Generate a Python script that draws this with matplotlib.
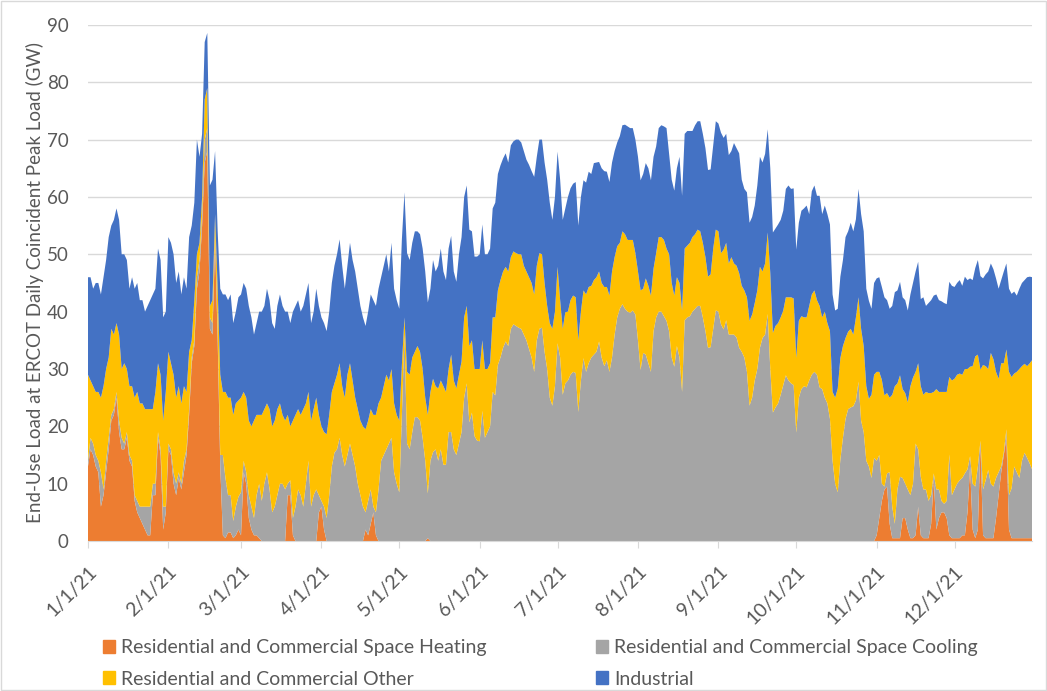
import numpy as np
import pandas as pd
import matplotlib
matplotlib.use('Agg')
import matplotlib.pyplot as plt
from matplotlib.patches import Patch, Rectangle

# daily values, GW, 1/1/21 .. 12/31/21
heating = [
    13, 16, 15, 13, 12, 6, 8, 12, 16, 21,
    22, 25, 19, 16, 16, 18, 14, 13, 7, 5,
    4, 3, 2, 1, 1, 8, 8, 18, 15, 2,
    5, 16, 15, 10, 8, 11, 9, 12, 15, 22,
    31, 34, 44, 47, 55, 66, 68, 37, 36, 52,
    35, 13, 1, 0.5, 1.5, 1.5, 0.5, 1, 2, 1,
    12, 10, 4, 2, 1, 1, 0.5, 0, 0, 0,
    0, 0, 0, 0, 0, 0, 0, 8, 8, 1,
    0, 0, 0, 0, 0, 0, 0, 0, 0, 5,
    6, 2, 0, 0, 0, 0, 0, 0, 0, 0,
    0, 0, 0, 0, 0, 0, 0, 2, 1, 3,
    5, 1, 0, 0, 0, 0, 0, 0, 0, 0,
    0, 0, 0, 0, 0, 0, 0, 0, 0, 0,
    0, 0.5, 0, 0, 0, 0, 0, 0, 0, 0,
    0, 0, 0, 0, 0, 0, 0, 0, 0, 0,
    0, 0, 0, 0, 0, 0, 0, 0, 0, 0,
    0, 0, 0, 0, 0, 0, 0, 0, 0, 0,
    0, 0, 0, 0, 0, 0, 0, 0, 0, 0,
    0, 0, 0, 0, 0, 0, 0, 0, 0, 0,
    0, 0, 0, 0, 0, 0, 0, 0, 0, 0,
    0, 0, 0, 0, 0, 0, 0, 0, 0, 0,
    0, 0, 0, 0, 0, 0, 0, 0, 0, 0,
    0, 0, 0, 0, 0, 0, 0, 0, 0, 0,
    0, 0, 0, 0, 0, 0, 0, 0, 0, 0,
    0, 0, 0, 0, 0, 0, 0, 0, 0, 0,
    0, 0, 0, 0, 0, 0, 0, 0, 0, 0,
    0, 0, 0, 0, 0, 0, 0, 0, 0, 0,
    0, 0, 0, 0, 0, 0, 0, 0, 0, 0,
    0, 0, 0, 0, 0, 0, 0, 0, 0, 0,
    0, 0, 0, 0, 0, 0, 0, 0, 0, 0,
    0, 0, 0, 0, 1, 4, 7, 9, 9.5, 3,
    0.5, 0.5, 0.5, 0.5, 4, 4, 2, 0.5, 0.5, 1,
    6, 1, 0.5, 0.5, 0.5, 3, 11, 2, 4, 5,
    5, 4, 1, 0.5, 0.5, 0.5, 0.5, 1, 1, 5,
    13, 2, 0.5, 2, 17, 1, 0.5, 0.5, 0.5, 0.5,
    4, 8, 12, 15, 18, 2, 0.5, 0.5, 0.5, 0.5,
    0.5, 0.5, 0.5, 0.5, 0.5,
]

cooling = [
    1, 2, 2, 2, 2, 6, 1, 2, 2, 1,
    1, 1, 2, 2, 1, 1, 1, 1, 1, 2,
    2, 3, 4, 5, 5, 2, 2, 1, 1, 4,
    1, 1, 1, 2, 2, 1, 1, 2, 1, 1,
    1, 1, 2, 2, 2, 4, 4, 2, 2, 2,
    2, 2, 14, 10.5, 6.5, 6.5, 3, 5, 5.7, 7.5,
    2, 2, 4, 4, 3, 7, 9.5, 7, 10, 12,
    9, 5, 6, 8, 10, 10, 9, 2, 2.6, 3,
    6, 9, 8, 6, 10, 14, 6, 8, 9, 3,
    1, 4, 4, 8, 13, 15.4, 16, 18, 15, 13,
    15, 17, 15, 13, 10, 8, 6, 3, 6, 6,
    1, 4, 9, 14, 15, 16, 17, 18, 12, 10,
    8.5, 22, 36, 17, 16, 19, 21.6, 21.6, 21, 18,
    14, 7.8, 14, 15.5, 16, 14, 16, 13.3, 13.3, 19,
    19, 16, 15, 17, 19, 25, 27.5, 20.7, 22.4, 18.3,
    17.5, 17.4, 22.7, 18, 19, 20, 26, 25.4, 30.7, 32,
    33.7, 34.8, 34, 37, 37.8, 37.5, 37.2, 37, 36, 35,
    33.5, 32, 29.5, 35, 37, 37.2, 33, 30, 25, 23.6,
    27, 34.5, 32, 25.5, 27.5, 28, 29, 29.5, 29.3, 22.5,
    28, 31.9, 29.5, 31, 32, 32.5, 33, 34.8, 32, 30.5,
    31.5, 29.5, 32, 36, 39, 40.5, 41.3, 40.5, 40, 39.8,
    40.2, 39.5, 35, 29.8, 32.8, 32.5, 31, 29.5, 36.6, 39,
    40, 40, 39.2, 38.4, 36.6, 32, 30.4, 34, 32, 26,
    38.5, 39, 39.2, 40, 40.5, 41, 41, 39, 36.6, 33.7,
    33.8, 37, 40.2, 40, 37.8, 36.9, 38.5, 36, 36, 36,
    35.5, 33.7, 33, 32, 29.5, 23.6, 25, 28, 30, 33.7,
    35.4, 36, 39.6, 30, 22.4, 23.3, 24, 25.5, 27.2, 28.9,
    28, 27.5, 27.2, 18.9, 25, 26.5, 27, 26.8, 28, 29,
    29.5, 29, 26.8, 26.5, 25, 24, 21.3, 14, 10, 8.5,
    14.2, 18, 21.3, 23, 23.3, 23.5, 24.5, 27.8, 21, 19,
    14, 13, 11, 14.5, 13, 11, 3, 0.5, 2.3, 9,
    5.5, 2.5, 8.5, 10.7, 7, 6, 7, 7.5, 9.5, 16,
    10, 10.2, 8.5, 8.5, 6.5, 5, 0.8, 7, 5, 2,
    1.5, 3, 14.1, 7.5, 8.5, 9.5, 10.1, 10, 10.8, 7.5,
    1.8, 8, 9, 11, 0.5, 8, 10.1, 11.9, 9.5, 9,
    7, 4, 1, 0.5, 1.5, 6, 8.7, 12.5, 11.5, 10.5,
    13.5, 14.9, 14, 13, 11.9,
]

other = [
    15, 10, 10, 11, 12, 13, 18, 16, 14, 15,
    13, 12, 15, 12, 14, 11, 12, 13, 17, 19,
    18, 18, 17, 17, 17, 13, 16, 12, 13, 15,
    20, 16, 15, 17, 15, 15, 14, 13, 10, 10,
    3, 7, 4, 3, 3, 7, 7, 2, 4, 3,
    7, 14, 11, 15, 17, 17, 18.5, 18, 16.8, 16.5,
    12, 13, 13, 14, 17, 14, 12, 15, 13, 12,
    14, 15, 15, 15, 14, 12, 12, 12, 9.4, 17,
    16, 14, 14, 17, 14, 12, 15, 15, 16, 14,
    13, 13, 14.6, 14, 13, 12.1, 13, 13, 12, 12,
    14, 14, 13, 12, 13, 13, 14, 14.5, 14, 14,
    16, 17, 15, 11, 12, 13, 11, 12, 12, 12,
    12.5, 8.7, 3, 12.5, 13, 13, 11.4, 12.4, 12, 12,
    11, 13.7, 12, 12.8, 11, 12.6, 12, 13.7, 12.7, 11,
    13.5, 12, 11.6, 12, 12.3, 14, 13.5, 13.3, 12.6, 11.7,
    12.5, 12.6, 12.3, 12, 11, 11, 13, 13.6, 13, 13.5,
    13.3, 13, 13, 12.5, 12.7, 12.7, 12.8, 13, 12, 12,
    12.5, 13, 13.5, 13, 13.2, 12.8, 12, 11, 13, 13.4,
    13, 13.3, 10, 11.5, 12.4, 12, 13, 13.3, 13.2, 12.5,
    12, 11.8, 13.5, 13.3, 12.5, 13, 13, 12.2, 13, 13.8,
    12.8, 13.3, 15, 13.5, 12.4, 11.5, 12.7, 13, 12.5, 12.7,
    12.3, 10.7, 12, 13.9, 11.2, 13.3, 13.5, 13.3, 10.9, 11.2,
    13, 13, 13.3, 12.6, 13.4, 13, 12.4, 12, 13, 14.2,
    12.5, 12.5, 12.8, 13, 13, 13.3, 13, 13, 12.9, 12.4,
    12.7, 14, 14.1, 14, 12.4, 13.9, 13.5, 12.4, 13.5, 12.4,
    12.5, 13, 11.5, 11.7, 13, 14.8, 14.5, 13.5, 13.7, 14.1,
    11.6, 12.4, 14.2, 16.7, 13.9, 14.2, 14, 13.5, 13, 13.6,
    14.5, 15, 15.1, 13, 13.4, 12.7, 12, 12.2, 13, 14,
    14.2, 13, 14.2, 12.5, 15, 14, 15.3, 12, 15, 18.1,
    17.7, 16, 14.1, 13.5, 13.7, 12.5, 14.5, 14.7, 16, 15,
    13, 11.8, 14.5, 14.5, 15.5, 14.5, 18.1, 15.9, 14, 13,
    19.5, 24, 18.5, 17.7, 15.5, 15.8, 15.2, 19, 18.5, 12.5,
    15, 15.8, 16.5, 17, 18.8, 17.8, 14.2, 17.5, 17, 19,
    19.5, 19, 13.5, 20, 19.3, 19, 18.6, 18, 18.2, 17.5,
    15.6, 20.5, 22.7, 19.5, 12.4, 21.7, 19.9, 17.6, 22.8, 22.2,
    18.5, 16.3, 18, 15.5, 13.9, 21.5, 19.4, 16.2, 17.5, 19,
    16.5, 15.5, 16, 17.5, 19.2,
]

industrial = [
    17, 18, 17, 19, 19, 18, 19, 19, 21, 18,
    20, 20, 20, 20, 19, 19, 17, 19, 19, 19,
    18, 18, 17, 18, 19, 20, 18, 20, 20, 18,
    14, 20, 21, 21, 20, 20, 19, 19, 18, 20,
    20, 17, 20, 15, 11, 10, 9.6, 21, 21, 11,
    10, 15, 17, 17, 17, 18, 16, 16, 18, 18,
    19, 19, 20, 19, 15, 16, 18, 18, 18, 20,
    19, 18, 16, 18, 19, 19, 19, 18, 18, 19,
    19, 19, 18, 18, 19, 19, 17, 17, 19, 19,
    19, 19, 18, 18, 19, 20.5, 21, 21.6, 21, 19,
    19, 21, 21, 22, 21, 20, 19, 18, 19, 20,
    20, 19, 20, 21, 21, 21, 19, 22, 20, 20,
    19.5, 21.9, 21.8, 20.7, 20, 20, 21, 20, 20.5, 21,
    22, 19.6, 18, 20.7, 20, 21.4, 23, 20, 19.5, 21,
    20.7, 19, 18.6, 21, 21.7, 21, 21, 20.3, 19, 19.6,
    19.6, 20, 20.2, 20, 20, 20, 19, 20, 20.3, 20,
    19.7, 19.8, 19, 19.5, 19.2, 19.8, 20, 19.5, 20, 19.5,
    19.6, 19.5, 20.5, 19, 19.8, 20, 21, 22, 21, 19,
    20, 20.1, 21, 19, 18.1, 20, 19.5, 19.5, 20.1, 20,
    20, 19.2, 19.5, 20.1, 19.5, 20.4, 20, 19.1, 20, 20.2,
    20.1, 19.8, 19, 18.5, 18.1, 18.6, 18.5, 19.1, 19.8, 19.5,
    19.5, 19.8, 20, 19.2, 20, 20.1, 20.5, 20.1, 19.5, 18.6,
    19, 19.5, 19.8, 21, 17.5, 18, 18.3, 19, 22, 20,
    20, 20, 19.5, 18.5, 19, 18.9, 19.2, 19, 19, 18.6,
    18.3, 18, 18.9, 18.8, 21, 19.5, 19, 18.9, 18.5, 21,
    20.5, 20.9, 18.5, 17.7, 18.3, 17.1, 17, 17, 18.3, 19.2,
    19, 19.1, 18, 18.3, 17.5, 17, 17.2, 17, 17.4, 18.9,
    19.5, 18.9, 19.2, 18.9, 17.1, 18.4, 19, 19.5, 16, 18,
    18.3, 18.2, 19.2, 18, 18.5, 19, 18.6, 17, 15.2, 13.9,
    14.2, 15, 17.6, 17.5, 18.5, 18, 17.1, 18.9, 20, 20,
    17, 17.1, 15, 16, 16.3, 16.5, 16.2, 17.1, 16.2, 15.5,
    15.5, 16.4, 16.2, 16.3, 16, 16.2, 16, 16, 16.5, 17.5,
    17.7, 15.2, 17, 15, 15.7, 16.2, 16.8, 16.5, 16, 15.8,
    15.5, 15.3, 16.6, 16.5, 16, 16, 16.3, 15.5, 16.1, 15.5,
    15.4, 15, 15.4, 16.5, 16.3, 15.1, 16, 17, 15.6, 15.7,
    16.3, 15.7, 14.5, 16, 15, 14.5, 14.5, 14.3, 13.3, 14,
    14.5, 14.6, 15.5, 15.1, 14.4,
]

series_names = ['Residential and Commercial Space Heating',
                'Residential and Commercial Space Cooling',
                'Residential and Commercial Other',
                'Industrial']
colors = ['#ED7D31', '#A5A5A5', '#FFC000', '#4472C4']
tick_labels = ['1/1/21', '2/1/21', '3/1/21', '4/1/21', '5/1/21', '6/1/21',
               '7/1/21', '8/1/21', '9/1/21', '10/1/21', '11/1/21', '12/1/21']

n = min(len(heating), len(cooling), len(other), len(industrial))
dates = pd.date_range('2021-01-01', periods=n, freq='D')

plt.rcParams['font.family'] = ['Lato', 'DejaVu Sans']
txt = '#595959'

fig = plt.figure(figsize=(10.47, 6.91), dpi=100)
fig.patches.append(Rectangle((0.001, 0.001), 0.998, 0.998, transform=fig.transFigure,
                             fill=False, edgecolor='#d9d9d9', lw=1))
ax = fig.add_axes([0.084, 0.217, 0.902, 0.747])

ax.stackplot(dates, heating[:n], cooling[:n], other[:n], industrial[:n],
             colors=colors, linewidth=0)

ax.set_ylim(0, 90)
ax.set_yticks(range(0, 91, 10))
ax.set_xlim(dates[0], dates[-1])
ax.set_xticks(pd.date_range('2021-01-01', '2021-12-01', freq='MS'))
ax.set_xticklabels(tick_labels, rotation=45, ha='right', rotation_mode='anchor')
ax.grid(axis='y', color='#d9d9d9', lw=1)
ax.set_axisbelow(True)
for s in ['top', 'right', 'left']:
    ax.spines[s].set_visible(False)
ax.spines['bottom'].set_color('#d9d9d9')
ax.tick_params(axis='y', length=0, labelsize=13.5, labelcolor=txt, pad=14)
ax.tick_params(axis='x', length=5, color='#d9d9d9', labelsize=14, labelcolor=txt, pad=11)
ax.set_ylabel('End-Use Load at ERCOT Daily Coincident Peak Load (GW)', fontsize=13.5,
              color=txt, labelpad=2)

order = [0, 2, 1, 3]
handles = [Patch(color=colors[i]) for i in order]
labels = [series_names[i] for i in order]
fig.legend(handles, labels, loc='center', bbox_to_anchor=(0.516, 0.040), ncol=2,
           frameon=False, fontsize=14, labelcolor=txt, columnspacing=5.6,
           handlelength=0.65, handleheight=0.65, handletextpad=0.3, labelspacing=0.75)

fig.savefig('out.png', dpi=100)
